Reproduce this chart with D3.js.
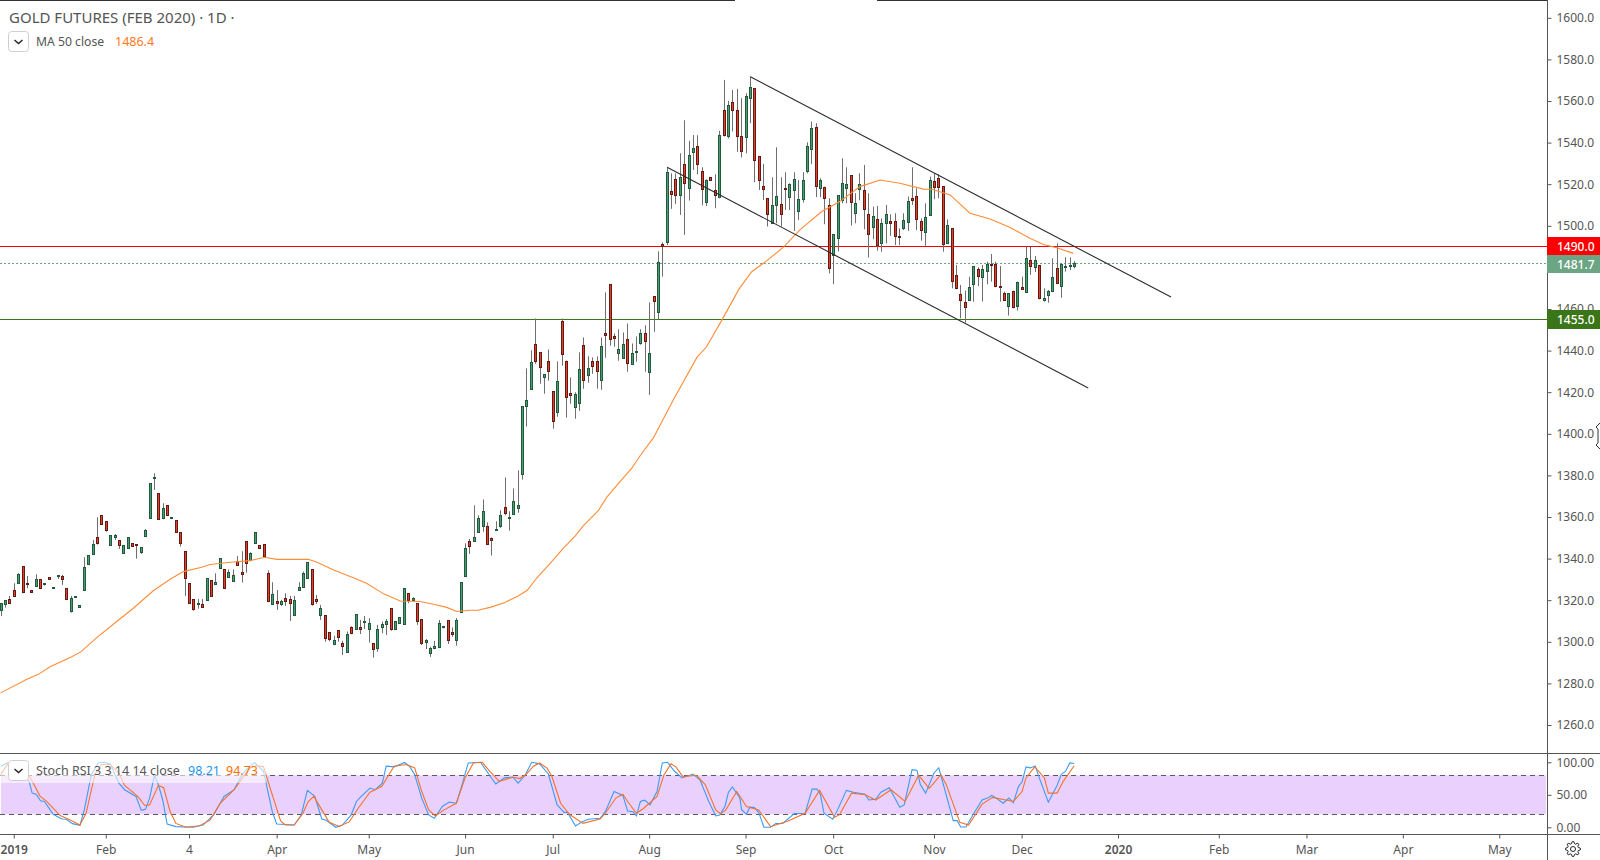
<!DOCTYPE html>
<html>
<head>
<meta charset="utf-8">
<title>Gold futures</title>
<script src="https://cdn.jsdelivr.net/npm/d3@7"></script>
<style>
  html, body { margin: 0; padding: 0; background: #fff; }
  svg { display: block; }
  text { font-family: "Noto Sans", "Open Sans", sans-serif; }
  .axis text { fill: #555; font-size: 12px; }
  .axis line { stroke: #555; }
  .axis path { display: none; }
</style>
</head>
<body>
<div id="chart"></div>
<script>
"use strict";

// daily candles, one entry per session
var opens = [
  1314.7,1317.6,1320.4,1324.5,1327.7,1336.1,1327.9,1324.5,1326.3,1329.8,
  1327.6,1330.9,1325.3,1331.6,1331.4,1325.5,1314.3,1321.5,1316.7,1324.4,
  1337.3,1341.7,1350,1360.6,1357.7,1346,1350.3,1348.6,1342.3,1344.7,
  1347.1,1346.8,1342.6,1350.3,1359.1,1378.5,1371.2,1359,1365.4,1359,
  1358.2,1352.4,1343.3,1327.9,1320.2,1318,1318,1319.7,1329.3,1327.2,
  1334.9,1334.6,1331.1,1329.2,1338.6,1333.3,1348.1,1338.8,1347,1346.2,
  1346.6,1332.7,1317.6,1319.2,1317.6,1320.7,1320.2,1312.5,1324.4,1326,
  1330.1,1334.6,1320.4,1312.3,1312.5,1304.3,1298.4,1305.3,1299,1294.7,
  1306.7,1305.6,1306.7,1309,1305.6,1299,1296.5,1306.6,1308,1315.9,
  1305.6,1308.7,1308.2,1323.1,1319.7,1318.3,1310.6,1299.4,1294.2,1297,
  1297,1306.9,1310.1,1304.5,1300.6,1313.9,1331.1,1348.1,1348,1352.4,
  1355.3,1355.3,1349.5,1353.7,1355.1,1364.4,1359.1,1361,1363.9,1380.3,
  1412.8,1420.9,1442.7,1438.9,1426.7,1435,1420.1,1409.9,1453.8,1435,
  1419.2,1412.3,1414.2,1442.3,1427.7,1434.6,1434.6,1425.3,1448,1471.6,
  1446.6,1438.3,1436,1445.1,1433,1438.7,1443.1,1448,1429.1,1465.8,
  1458.4,1490.8,1491.8,1516.4,1522.1,1514.3,1529.3,1517.8,1535,1538,
  1526,1511.1,1523.1,1516.8,1513.5,1555.3,1542.7,1559.2,1555.3,1542.8,
  1542.3,1561.1,1565.9,1533.2,1518.8,1513,1501,1509.6,1510.4,1518,
  1513.5,1517,1506.8,1512.5,1526,1536.6,1547.1,1517.8,1518.3,1509.6,
  1485.8,1493.8,1511.9,1517.8,1524.1,1505.8,1517.3,1516.8,1505.3,1498.9,
  1502.9,1491.2,1500.8,1501.9,1501.9,1494.7,1498.4,1501.4,1513,1513.9,
  1501.9,1496.5,1504.8,1521.1,1522.6,1518.7,1491.2,1498.5,1475.9,1466.8,
  1463,1463.9,1471.5,1478.8,1474.8,1477.9,1481.2,1481.2,1470.8,1467.3,
  1460.9,1468.3,1460.9,1470.2,1467.8,1483.2,1479.8,1480.8,1463.8,1466.2,
  1468.3,1479.3,1470.5,1479.6,1480.3,1480.1
];
var highs = [
  1318.3,1319.7,1321.8,1327.9,1332.7,1336.1,1331.4,1324.5,1332.2,1329.8,
  1327.9,1330.9,1326,1331.9,1331.9,1325.5,1321.8,1321.8,1317.5,1340.4,
  1341.4,1348.7,1359.6,1360.6,1357.7,1351,1351.6,1348.6,1346.2,1350,
  1347.1,1346.8,1345.2,1353.9,1376,1380.8,1371.2,1366.4,1365.4,1359.6,
  1358.2,1352.4,1343.3,1327.9,1320.2,1320.4,1320.4,1330.3,1329.3,1332.7,
  1339.9,1334.6,1334.6,1334.6,1341,1343.3,1348.1,1342.8,1352.4,1346.2,
  1346.6,1334.1,1328.4,1324.7,1319.9,1323.1,1321.8,1321.8,1328.4,1333.5,
  1338,1334.6,1322.3,1317.5,1312.5,1304.3,1302.6,1305.3,1300.3,1304.7,
  1307.2,1313,1310.3,1312.2,1311.1,1299,1307.9,1309.5,1310.7,1315.9,
  1309.6,1311.5,1325.5,1323.1,1321.2,1318.3,1310.6,1301.1,1297.4,1300.2,
  1310.3,1307.2,1310.1,1306.7,1311.2,1328.4,1347.1,1349.2,1365.4,1360.6,
  1368.2,1357.2,1350,1357.7,1363,1378.8,1362.5,1373.5,1382.2,1413,
  1431.2,1439.9,1455.2,1438.9,1428.3,1440.3,1420.1,1434.6,1455.2,1435,
  1426.9,1419.7,1438.9,1446.1,1437,1436.5,1437,1446.1,1467.7,1471.6,
  1448,1450,1448.5,1452.8,1443.2,1446.6,1450,1451.9,1462.9,1465.8,
  1487.5,1491.8,1527.9,1525,1525,1534.6,1550.5,1540.6,1543.4,1543.3,
  1527.9,1522.1,1523.1,1524.5,1545.4,1569.9,1559.8,1565.1,1565.6,1561.1,
  1563.5,1571.5,1565.9,1533.2,1529.5,1513,1523.1,1537.5,1523.1,1525.5,
  1520.2,1525.5,1521.8,1525.5,1539.9,1549.9,1549.1,1522.6,1518.6,1513,
  1495.7,1514.4,1532.2,1527.9,1524.1,1515.4,1525,1529,1515.4,1509,
  1509.3,1503.3,1509.8,1505.3,1505.8,1498.5,1505.8,1513.8,1527.9,1517.8,
  1503.3,1510.6,1523.4,1525,1524.5,1518.7,1502.9,1498.5,1480.9,1471.3,
  1468.6,1475.3,1480.3,1479.8,1480.9,1482.5,1486.2,1482.5,1480.4,1468.1,
  1467.3,1468.6,1472.9,1475.3,1489.7,1489.7,1485.2,1480.8,1469.7,1468.9,
  1484.1,1491.3,1481.7,1484.6,1484.6,1482.7
];
var lows = [
  1312.2,1316.2,1318.3,1321.5,1327.7,1323.1,1325.5,1323.4,1326.3,1325.3,
  1326.8,1329.7,1325.3,1330,1327.1,1320,1313.8,1321.5,1316.7,1324.4,
  1337.3,1341.7,1346.5,1356.3,1352.7,1346,1348.7,1344.4,1342.3,1344.7,
  1345.5,1339.7,1342,1350.3,1359.1,1372.8,1358.7,1358.7,1360.4,1359,
  1352.4,1345.5,1321.8,1318.3,1314.7,1315.7,1316.2,1319.7,1321.5,1327.2,
  1334.9,1325.3,1331.1,1329.2,1336.2,1328.2,1333,1338.8,1347,1344.4,
  1340.7,1318.8,1317.6,1315.1,1317,1317,1309.8,1312.3,1324.4,1326,
  1330.1,1317.1,1318,1310.3,1299.8,1300,1298.4,1299.8,1293.4,1294.7,
  1303.4,1305.6,1303.5,1305.9,1299.4,1292.2,1295,1303.9,1303,1305.1,
  1305.6,1308.7,1308.2,1318.3,1319.1,1307.9,1298.2,1296.3,1292.5,1296.2,
  1297,1306.2,1298.7,1302.2,1297.9,1313.9,1331.1,1342,1348,1352.4,
  1352.7,1346.6,1341.2,1353.2,1354.5,1360.6,1353.2,1361,1361.8,1377.7,
  1403.2,1420.9,1433.4,1423.8,1419,1425.3,1402.2,1408,1432.5,1407.5,
  1414.2,1407,1410.8,1421.4,1424.3,1428.6,1421.4,1420.9,1436.3,1442.1,
  1441.6,1434.9,1436,1429.6,1433,1434.4,1442.6,1429.6,1418.5,1448.8,
  1454.8,1475.3,1490.5,1507.9,1510.3,1505,1495.4,1511.9,1526.6,1524.5,
  1509.6,1509.2,1521.5,1508.2,1513,1542.7,1541.8,1545.1,1535.3,1532.6,
  1534.6,1549.1,1520.7,1517,1512.2,1499.4,1501,1501,1499.4,1507.4,
  1507.4,1497.3,1502.6,1510.9,1525,1529.5,1513.5,1513.5,1500.5,1476.9,
  1471.7,1487.4,1510.6,1510.6,1499.9,1501,1512,1498.1,1484.5,1493.3,
  1487.8,1487.3,1491.3,1494.9,1490.5,1490.5,1497.7,1497.3,1509.8,1497.7,
  1492.6,1490.2,1504.8,1512.5,1513,1487.3,1491,1469.7,1469.2,1455.3,
  1453.2,1463.8,1463.3,1470.8,1463.3,1471.6,1472.9,1470.2,1463.3,1463.9,
  1456.6,1460.1,1459,1469.1,1467.6,1476.1,1477.5,1464.4,1463.3,1462.8,
  1468.3,1471.9,1465.2,1477.7,1478.5,1479.3
];
var closes = [
  1318.3,1319.7,1318.6,1321.5,1332.2,1323.4,1327.6,1323.4,1329.8,1325.3,
  1327.9,1329.7,1326,1331.9,1330.1,1320,1320.7,1321.8,1317.5,1335.6,
  1341.4,1346.6,1347,1356.3,1353.2,1351,1351.1,1346,1346.2,1350,
  1345.5,1346.3,1345.2,1353.4,1376,1379,1358.7,1363.9,1360.4,1359.6,
  1352.4,1347,1330.1,1318.3,1315.2,1318.3,1316.7,1330.3,1321.5,1328.4,
  1339.9,1325.3,1333.3,1331.9,1336.7,1332.1,1337.3,1342.3,1352.4,1344.9,
  1340.7,1319.1,1322.6,1318,1319.2,1319.1,1318.1,1319.7,1326,1332.7,
  1338,1317.6,1319.6,1315.9,1301.3,1300.8,1300.5,1301.9,1297.4,1303.4,
  1303.7,1313,1305.6,1309.6,1308.7,1296,1305.8,1308.2,1309.6,1305.6,
  1309.6,1311.5,1325.5,1319.6,1320.7,1309.5,1298.9,1300.6,1296.6,1297.8,
  1308.7,1307.2,1300.5,1303.7,1310.1,1328.4,1344.7,1345.5,1350,1359.1,
  1362.5,1346.6,1348.5,1354,1360.6,1361.5,1359.7,1367.3,1365.4,1413,
  1415.8,1434.1,1434.6,1431.5,1428.3,1430.1,1405.6,1425,1437.8,1417.6,
  1418.1,1418.7,1430.7,1425.3,1431.2,1432,1429.6,1441.8,1446.9,1445.1,
  1445.5,1440.3,1442.7,1433.4,1438.4,1439.4,1448,1444.2,1438.4,1463.3,
  1482.2,1490,1525.5,1515.1,1514.3,1523.1,1520.2,1533.7,1537,1529.3,
  1517.3,1521.7,1521.5,1514.3,1543.3,1543.1,1557.7,1555.3,1542.8,1535.6,
  1562,1566.4,1531.3,1521.5,1517.3,1505.3,1509.6,1514,1505.8,1517.6,
  1519.7,1522.1,1512.5,1521.7,1538,1546.7,1518.8,1521.7,1513,1479.3,
  1495.7,1514.4,1520.2,1519.7,1511.1,1510.6,1519.7,1507.7,1495.7,1504.3,
  1490.2,1500.9,1505.3,1500.8,1494.5,1494.1,1502.4,1511.5,1511.8,1502.7,
  1497.4,1503.8,1521.6,1518.3,1518.3,1490.8,1500,1473.1,1469.5,1463.8,
  1460.6,1470.2,1480.3,1475.3,1478.8,1481.2,1480.6,1470.5,1470.5,1463.9,
  1467.3,1460.6,1472.6,1469.1,1484.1,1480.1,1483.2,1464.7,1464.9,1468.3,
  1475,1471.9,1481.2,1480.3,1480.8,1481.7
];

// moving average, read at the bends
var maBars = [0,6,8.6,11.3,16,18.3,22,26.5,30.3,34.9,38.7,41.7,45.9,47.8,53.1,57,60.3,63,70.2,72.1,
  76,80.5,83.5,87.4,91.2,95.7,98.8,101.8,104.1,107.1,108.9,111.7,115.1,118.1,120.2,122.3,125.4,128.4,131.1,133,
  136.4,138.3,141,144,145.9,149,153.5,158.9,161.1,164.6,168.5,171.4,174.8,178.6,182.4,187.4,191.5,196.1,200.7,205.2,
  210.6,212.5,216.7,221.2,225.8,230.4,235,238,241,244.8];
var maValues = [1275.2,1281.7,1284.1,1287.8,1292.3,1294.9,1301.9,1309.5,1315.9,1324.4,1329.8,1333.5,1335.6,1336.9,1338.1,1338.8,1340.4,1339.4,1339.4,1338.1,
  1334.3,1330.6,1327.9,1322.8,1319.4,1319.1,1317.8,1316.3,1314.3,1314.9,1314.9,1316.3,1318.7,1321.8,1324.5,1330.3,1337.5,1344.7,1350.6,1355.6,
  1362.8,1369.2,1375.9,1383.1,1389.1,1397.9,1416,1436.5,1441.6,1454.4,1469.3,1477.7,1482.9,1489.4,1497.8,1506.6,1511.4,1518.6,1521.8,1520.2,
  1517.4,1517.3,1514.6,1505.8,1503,1498.9,1493.7,1490.8,1489.2,1486.5];

// stoch rsi %K
var kBars = [0,1.6,6.5,7.2,8.1,9.1,10,12,14,15,16.4,18.1,19.1,20.7,22.3,23.5,25,27,28.3,30.9,32.1,33.1,34,35.1,36,37,38,40,44,46.2,48.6,51,53.3,54.9,56,58,60,62,63,67,68.6,70,71.7,73.3,74.3,76.5,78,80,81.2,82.3,84.3,85.5,87.1,88,89.8,92.2,93.3,94.5,96.1,97.7,99,100.8,102.4,104,105.1,106.7,109.5,113,115,116.9,118.1,119.7,121.2,
  123,125,127,128.6,129.4,131.2,132.5,134.1,136.8,138,140,142,143.1,144.3,145.1,146,147,148.2,149.8,151,152.2,153.7,155.5,158,159.6,161.6,163.2,164.1,165.3,166.1,167,168.7,169.1,170.2,171,172,173,174.2,175.7,176.9,178.5,181.1,183.6,185.2,186.3,187.1,187.9,189.9,191,193,194.6,197.3,198.1,199.7,200.9,202.8,205.2,206.2,208,209.1,209.9,211.1,213,214.1,217.4,218.3,219.1,220.3,222.1,224,225.2,226.2,227.2,228.8,230.1,231.1,232.3,233.1,234,235,236.1,237.2,239.1,241,242.1,243,244,245];
var kValues = [94,99,70.7,52.6,51,40.7,39.7,20,12.8,12.3,5.6,3,26.8,81,99,100,97.6,68,57.8,47.5,26,28,44.9,80,65.6,42,5,1,0,3.5,19,47.5,57.8,78.5,88.8,99.2,86,24,5,3.5,19,56.8,47.5,12.8,10.7,0,3.5,19,39.7,47.5,60.4,57.8,68,94,93,99.7,94,81,44.9,19,13.9,32,38.7,37,60.4,99,100,66.6,76,77.4,68,80,100,
  97.6,82,34.5,23,23,2,7.6,12.3,13.8,24,55,49,25,24,17.5,39.7,41.8,34.5,55,99,100,87,76,82,73,39.7,17.5,19,32,54,62,45,27,20,31,30.4,23,0,0,5.6,6,21,21.6,58.8,58.8,50,21.6,12.3,26.8,56.8,54,51,42,43,54,61,31,34.5,88.8,87.8,65.6,52.6,83.6,91.4,10.2,10.2,0.4,0.4,21.6,42,44.9,49,44.9,37,44.9,38,63,69.7,93,91.4,94.5,73,38.7,63,82,86,99,98.2];

// stoch rsi %D
var dBars = [0,1.6,6.5,9,10.5,13.6,16,18.1,19.5,21.5,23,25,27,28.3,31.3,32.9,34,36,37.2,38.7,40,42.3,45.4,47.8,50.1,53.3,54.9,56.8,58.4,60,62,63.9,65,67,69,70.2,71.5,73.3,75,77.3,79.6,81.6,84.3,87,89.8,92.6,94.5,96.1,97.7,99.2,101.2,104,106,107.9,109.9,111.8,113.8,116.9,118.5,120,121.6,
  123,124.7,125.8,127.8,129.8,132.9,136.8,138,140.4,142,143.1,145.1,146.7,149.8,151.4,153,154.1,155.7,158.8,160.8,163.2,164.3,165.5,168,170.2,173,175.7,179.7,183.6,186.9,190.3,191.4,194.2,197.3,199.7,203.2,206.4,209.5,211.9,214.6,215.8,218.9,220.9,224,226.4,231.1,233.1,234,236,238.2,239.1,241.1,242.5,245];
var dValues = [81,97,80,48,40,18,11,3.5,21.6,81,96.6,96.6,83.6,64.5,47.5,33.5,34.5,64.5,61,24,6,0,2.5,11,37,57.8,73,91,95,93,50,9.7,3.5,3.5,21.6,39.7,47.5,26.8,7.6,1.4,8.7,29.4,54,63,94,96.6,91.4,55,26.8,17.5,26.8,37,76,99,100,85,70.7,77,75,82,94,
  99,91,78.5,37,20,6,12.8,21.6,45,51,39.7,21.6,29,47.5,81,97.6,93,78,80,65.6,26.8,20.6,26.8,55,32,26.8,1,9.7,21.6,56.8,15.4,19,52.6,50,42,57.8,39.7,80,60,81,65.6,7.6,3.5,35.6,46,39.7,55,76,93,76,52.6,52.6,70.7,94.7];

// drawn channel
var upperBars = [171.1, 267.1];
var upperPrices = [1571.4, 1465.5];
var lowerBars = [152.1, 248.2];
var lowerPrices = [1527.9, 1421.8];

var priceTicks = d3.range(1260, 1601, 20);
var stochTicks = [0, 50, 100];
var monthBars = [3, 24, 43, 63, 84, 106, 126, 148, 170, 190, 213, 233, 255, 278, 298, 320, 342];
var monthLabels = ["2019", "Feb", "4", "Apr", "May", "Jun", "Jul", "Aug", "Sep", "Oct", "Nov", "Dec", "2020", "Feb", "Mar", "Apr", "May"];

var width = 1600, height = 860, axisX = 1547;
var paneBottom = 753, timeTop = 834;

var x = d3.scaleLinear().domain([0, 245]).range([0.6, 1074.2]);
var y = d3.scaleLinear().domain([1260, 1600]).range([724.5, 17.3]);
var yStoch = d3.scaleLinear().domain([0, 100]).range([827.3, 762.3]);

var svg = d3.select("#chart").append("svg")
  .attr("width", width)
  .attr("height", height)
  .style("font-family", "'Noto Sans', sans-serif");

var snap = function(v) { return Math.round(v) + 0.5; };

svg.append("defs").append("clipPath").attr("id", "plot")
  .append("rect").attr("x", 0).attr("y", 1).attr("width", axisX).attr("height", paneBottom - 1);

// level lines sit under the candles
var levels = svg.append("g").attr("clip-path", "url(#plot)");
var hline = function(price, color, dash) {
  levels.append("line")
    .attr("x1", 0).attr("x2", axisX)
    .attr("y1", snap(y(price))).attr("y2", snap(y(price)))
    .attr("stroke", color)
    .attr("stroke-dasharray", dash);
};
hline(1490, "#f00000", null);
hline(1481.7, "#6ba583", "2,2");
hline(1455, "#3a7518", null);

// candles
var candles = svg.append("g").attr("clip-path", "url(#plot)")
  .selectAll("g").data(d3.range(opens.length)).enter().append("g");

candles.append("line")
  .attr("x1", function(i) { return Math.round(x(i)) + 0.5; })
  .attr("x2", function(i) { return Math.round(x(i)) + 0.5; })
  .attr("y1", function(i) { return y(highs[i]); })
  .attr("y2", function(i) { return y(lows[i]); })
  .attr("stroke", "#6e6e6e");

candles.append("rect")
  .attr("x", function(i) { return Math.round(x(i)) - 0.5; })
  .attr("width", 2)
  .attr("y", function(i) { return snap(y(Math.max(opens[i], closes[i]))); })
  .attr("height", function(i) {
    return Math.max(1, Math.round(Math.abs(y(opens[i]) - y(closes[i]))));
  })
  .attr("fill", function(i) { return closes[i] >= opens[i] ? "#4f9c74" : "#e0412a"; })
  .attr("stroke", function(i) { return closes[i] >= opens[i] ? "#1f5a3c" : "#641a12"; });

// MA 50
var pairLine = d3.line()
  .x(function(d) { return d[0]; })
  .y(function(d) { return d[1]; });

svg.append("path")
  .attr("clip-path", "url(#plot)")
  .attr("d", pairLine(maBars.map(function(b, i) { return [x(b), y(maValues[i])]; })))
  .attr("fill", "none")
  .attr("stroke", "#ff8c37")
  .attr("stroke-width", 1.1);

// channel
var channel = function(bars, prices) {
  svg.append("path")
    .attr("d", pairLine(bars.map(function(b, i) { return [x(b), y(prices[i])]; })))
    .attr("fill", "none")
    .attr("stroke", "#2b2b2b")
    .attr("stroke-width", 1.1);
};
channel(upperBars, upperPrices);
channel(lowerBars, lowerPrices);

// stoch pane
svg.append("rect")
  .attr("x", 1).attr("width", axisX - 2)
  .attr("y", yStoch(80)).attr("height", yStoch(20) - yStoch(80))
  .attr("fill", "#e9d0fd");

[80, 20].forEach(function(v) {
  svg.append("line")
    .attr("x1", 0).attr("x2", axisX)
    .attr("y1", snap(yStoch(v))).attr("y2", snap(yStoch(v)))
    .attr("stroke", "#5d5663")
    .attr("stroke-dasharray", "5,4");
});

svg.append("path")
  .attr("d", pairLine(kBars.map(function(b, i) { return [x(b), yStoch(kValues[i])]; })))
  .attr("fill", "none").attr("stroke", "#3c9bf5").attr("stroke-width", 1.1);
svg.append("path")
  .attr("d", pairLine(dBars.map(function(b, i) { return [x(b), yStoch(dValues[i])]; })))
  .attr("fill", "none").attr("stroke", "#f4722b").attr("stroke-width", 1.1);

// frame
svg.append("line").attr("x1", 0).attr("x2", 735).attr("y1", 0.5).attr("y2", 0.5).attr("stroke", "#333");
svg.append("line").attr("x1", 877).attr("x2", axisX).attr("y1", 0.5).attr("y2", 0.5).attr("stroke", "#333");
svg.append("line").attr("x1", axisX + 0.5).attr("x2", axisX + 0.5).attr("y1", 0).attr("y2", height).attr("stroke", "#555");
svg.append("line").attr("x1", 0).attr("x2", width).attr("y1", paneBottom + 0.5).attr("y2", paneBottom + 0.5).attr("stroke", "#555");
svg.append("line").attr("x1", 0).attr("x2", width).attr("y1", timeTop + 0.5).attr("y2", timeTop + 0.5).attr("stroke", "#555");

// axes
svg.append("g").attr("class", "axis")
  .attr("transform", "translate(" + (axisX + 0.5) + ",0.5)")
  .call(d3.axisRight(y).tickValues(priceTicks).tickSize(4).tickPadding(5).tickFormat(d3.format(".1f")));

svg.append("g").attr("class", "axis")
  .attr("transform", "translate(" + (axisX + 0.5) + ",0)")
  .call(d3.axisRight(yStoch).tickValues(stochTicks).tickSize(4).tickPadding(5).tickFormat(d3.format(".2f")));

var timeAxis = svg.append("g").attr("class", "axis")
  .attr("transform", "translate(0," + (timeTop + 0.5) + ")")
  .call(d3.axisBottom(x).tickValues(monthBars).tickSize(4).tickPadding(7)
    .tickFormat(function(d, i) { return monthLabels[i]; }));

timeAxis.selectAll("text")
  .attr("font-weight", function(d, i) { return /^20/.test(monthLabels[i]) ? 600 : 400; });

// last price tags
var tag = function(price, color, top, h) {
  svg.append("rect").attr("x", axisX).attr("y", top).attr("width", width - axisX).attr("height", h).attr("fill", color);
  svg.append("text")
    .attr("x", axisX + 10).attr("y", top + h / 2 + 4.5)
    .attr("fill", "#fff").attr("font-size", "12px").attr("font-weight", 500)
    .text(d3.format(".1f")(price));
};
tag(1490, "#ff0000", 237, 18);
tag(1481.7, "#6ba583", 255, 18);
tag(1455, "#3a7518", 310, 19);

// legends
var button = function(top) {
  svg.append("rect")
    .attr("x", 8.5).attr("y", top + 0.5).attr("width", 20).attr("height", 20).attr("rx", 3)
    .attr("fill", "#fff").attr("stroke", "#cfcfcf");
  svg.append("path")
    .attr("d", "M14.5," + (top + 9) + "l4,3.5l4,-3.5")
    .attr("fill", "none").attr("stroke", "#222").attr("stroke-width", 1.4);
};

var label = function(px, py, size, color, str) {
  svg.append("text").attr("x", px).attr("y", py)
    .attr("font-size", size).attr("fill", color).text(str);
};

label(9, 23, "15px", "#555", "GOLD FUTURES (FEB 2020) \u00b7 1D \u00b7");
button(31);
label(36, 46, "12.2px", "#555", "MA 50 close");
label(115, 46, "12.5px", "#ff7a1a", "1486.4");

svg.append("rect").attr("x", 0).attr("y", 757).attr("width", 266).attr("height", 26)
  .attr("fill", "#fff").attr("fill-opacity", 0.6);
button(760);
label(36, 775, "12.5px", "#555", "Stoch RSI 3 3 14 14 close");
label(188, 775, "12.5px", "#2196f3", "98.21");
label(226, 775, "12.5px", "#ff6d00", "94.73");

// mouse pointer left on the axis
svg.append("path")
  .attr("d", "M1600,423l-4,4l2,2v14l-2,2l4,4")
  .attr("fill", "none").attr("stroke", "#333");

// settings gear
var gearPoints = d3.range(32).map(function(k) {
  var r = (k % 4 < 2) ? 7.5 : 5.5;
  var a = (k - 0.5) / 32 * 2 * Math.PI;
  return [1573 + r * Math.cos(a), 849 + r * Math.sin(a)];
});
svg.append("path")
  .attr("d", d3.line()(gearPoints) + "Z")
  .attr("fill", "none").attr("stroke", "#222");
svg.append("circle").attr("cx", 1573).attr("cy", 849).attr("r", 2.5)
  .attr("fill", "none").attr("stroke", "#222");
</script>
</body>
</html>
